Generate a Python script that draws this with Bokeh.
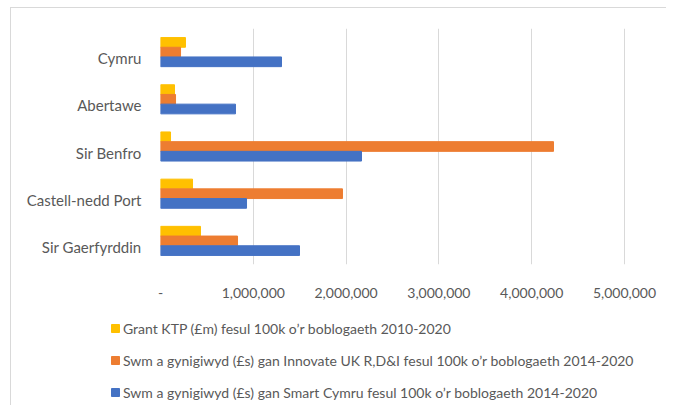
from bokeh.plotting import figure
from bokeh.models import Range1d, FixedTicker, NumeralTickFormatter, Legend, LegendItem, ColumnDataSource, InlineStyleSheet
from bokeh.transform import dodge
from bokeh.embed import file_html
from bokeh.resources import INLINE

# ---- data ----
categories = ["Cymru", "Abertawe", "Sir Benfro", "Castell-nedd Port", "Sir Gaerfyrddin"]
ktp = [269000, 151000, 108000, 345000, 431000]
innovate = [216000, 162000, 4235000, 1961000, 830000]
smart = [1304000, 808000, 2166000, 927000, 1498000]
x_ticks = [0, 1000000, 2000000, 3000000, 4000000, 5000000]
series_labels = [
    "Grant KTP (£m) fesul 100k o’r boblogaeth 2010-2020",
    "Swm a gynigiwyd (£s) gan Innovate UK R,D&I fesul 100k o’r boblogaeth 2014-2020",
    "Swm a gynigiwyd (£s) gan Smart Cymru fesul 100k o’r boblogaeth 2014-2020",
]
colors = ["#FFC000", "#ED7D31", "#4472C4"]

# ---- layout constants (pixels) ----
W = 666
TOP_H = 309
LEG_H = 96
FRAME_L, FRAME_T, FRAME_W, FRAME_H = 160, 28, 500, 236
PX_PER_UNIT = 92.8 / 1e6
FONT = "Lato"
TXT = "#595959"

n = len(categories)
cat_px = FRAME_H / n
shift = 6 / cat_px          # bars sit a little above their label
bh = 9.7 / cat_px           # bar thickness in category units

idx = list(range(n - 1, -1, -1))  # Cymru on top
pos = [i + shift for i in idx]
src = ColumnDataSource(dict(pos=pos, ktp=ktp, innovate=innovate, smart=smart))

top_border = InlineStyleSheet(css=""":host::after { content: ''; position: absolute; left: 10px; top: 7px;
 right: 0; bottom: 0; border-left: 1px solid #d9d9d9; border-top: 1px solid #d9d9d9; pointer-events: none; }""")
side_border = InlineStyleSheet(css=""":host::after { content: ''; position: absolute; left: 10px; top: 0;
 right: 0; bottom: 0; border-left: 1px solid #d9d9d9; pointer-events: none; }""")

p = figure(width=W, height=TOP_H, output_backend="svg", toolbar_location=None,
           x_range=Range1d(0, FRAME_W / PX_PER_UNIT),
           y_range=Range1d(shift - 0.5, n - 0.5 + shift),
           min_border_left=FRAME_L, min_border_top=FRAME_T,
           min_border_right=W - FRAME_L - FRAME_W, min_border_bottom=TOP_H - FRAME_T - FRAME_H,
           frame_width=FRAME_W, frame_height=FRAME_H, stylesheets=[top_border])
p.outline_line_color = None
p.border_fill_color = "white"

r1 = p.hbar(y=dodge("pos", bh), right="ktp", left=0, height=bh, color=colors[0], source=src)
r2 = p.hbar(y=dodge("pos", 0), right="innovate", left=0, height=bh, color=colors[1], source=src)
r3 = p.hbar(y=dodge("pos", -bh), right="smart", left=0, height=bh, color=colors[2], source=src)

p.ygrid.grid_line_color = None
p.xgrid.grid_line_color = "#d9d9d9"
p.xgrid.grid_line_width = 1

p.xaxis.ticker = FixedTicker(ticks=x_ticks)
p.xaxis.formatter = NumeralTickFormatter(format="0,0")
p.xaxis.major_label_overrides = {0: "-"}
p.xaxis.major_label_standoff = 23

p.yaxis.ticker = FixedTicker(ticks=idx)
p.yaxis.major_label_overrides = {i: c for i, c in zip(idx, categories)}
p.yaxis.major_label_standoff = 19

for ax in (p.xaxis[0], p.yaxis[0]):
    ax.axis_line_color = None
    ax.major_tick_line_color = None
    ax.minor_tick_line_color = None
    ax.major_tick_out = 0
    ax.major_tick_in = 0
    ax.major_label_text_font = FONT
    ax.major_label_text_font_size = "14px"
    ax.major_label_text_color = TXT
p.yaxis.major_label_text_font_size = "15px"

# ---- legend panel (separate root, so its frame spans the full width) ----
q = figure(width=W, height=LEG_H, output_backend="svg", toolbar_location=None,
           x_range=Range1d(0, 1), y_range=Range1d(0, 1),
           min_border=0, min_border_left=0, min_border_right=0, min_border_top=0, min_border_bottom=0,
           stylesheets=[side_border])
q.axis.visible = False
q.grid.visible = False
q.outline_line_color = None
q.border_fill_color = "white"
offscreen = ColumnDataSource(dict(y=[5], right=[5]))
g = [q.hbar(y="y", right="right", left=4, height=0.1, color=c, source=offscreen) for c in colors]
legend = Legend(items=[LegendItem(label=l, renderers=[r]) for l, r in zip(series_labels, g)],
                location=(110, 3), orientation="vertical",
                glyph_width=10, glyph_height=10, label_standoff=3, spacing=12,
                padding=0, margin=0, border_line_color=None, background_fill_alpha=0,
                label_text_font=FONT, label_text_font_size="14px", label_text_color=TXT,
                label_height=20)
q.add_layout(legend, "center")

open("out.html", "w").write(file_html([p, q], INLINE))
